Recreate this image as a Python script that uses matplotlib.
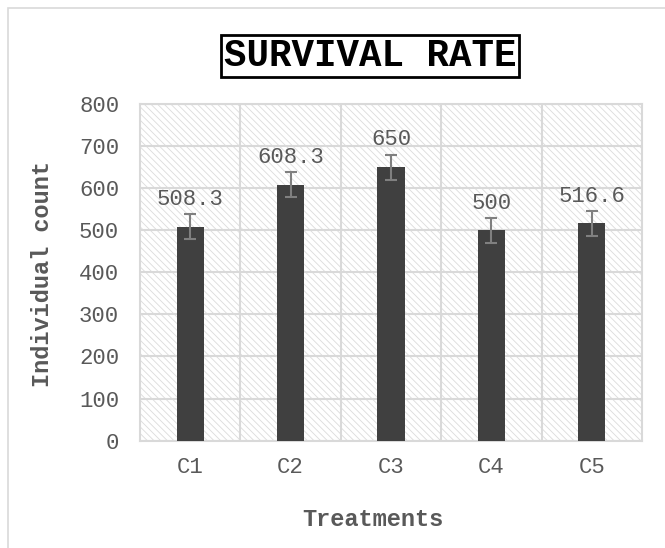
import matplotlib.pyplot as plt
from matplotlib.patches import Rectangle

plt.rcParams['font.family'] = ['Liberation Mono', 'DejaVu Sans Mono']
plt.rcParams['hatch.linewidth'] = 0.6

treatments = ['C1', 'C2', 'C3', 'C4', 'C5']
survival = [508.3, 608.3, 650, 500, 516.6]
errors = [30, 30, 30, 30, 30]
labels = ['508.3', '608.3', '650', '500', '516.6']

grey = '#595959'
grid = '#d9d9d9'

fig = plt.figure(figsize=(6.65, 5.48), dpi=100)
ax = fig.add_axes([0.2105, 0.196, 0.755, 0.614])

# outer chart border
fig.patches.append(Rectangle((8 / 665, -0.1), 1.2, (540 / 548) + 0.1,
                             transform=fig.transFigure, fill=False,
                             edgecolor=grid, linewidth=1.2))

# hatched plot area
ax.set_facecolor('none')
ax.add_patch(Rectangle((0, 0), 1, 1, transform=ax.transAxes, facecolor='white',
                       edgecolor='#dcdcdc', hatch='\\\\\\\\\\', linewidth=0, zorder=0))

x = range(len(treatments))
ax.bar(x, survival, width=0.27, color='#404040', zorder=3)
ax.errorbar(x, survival, yerr=errors, fmt='none', ecolor='#808080',
            elinewidth=1.5, capsize=4.5, capthick=1.5, zorder=4)
for i, (v, e, t) in enumerate(zip(survival, errors, labels)):
    ax.annotate(t, (i, v + e), xytext=(0, 3), textcoords='offset points',
                ha='center', va='bottom', fontsize=16, color=grey, zorder=5)

ax.set_xlim(-0.5, 4.5)
ax.set_ylim(0, 800)
ax.set_yticks(range(0, 801, 100))
ax.set_xticks(list(x))
ax.set_xticklabels(treatments)
ax.set_xticks([0.5, 1.5, 2.5, 3.5], minor=True)
ax.tick_params(which='both', length=0, labelsize=16, labelcolor=grey)
ax.tick_params(axis='y', pad=15)
ax.tick_params(axis='x', pad=12)
ax.grid(True, which='major', axis='y', color=grid, linewidth=1.5, zorder=1)
ax.grid(True, which='minor', axis='x', color=grid, linewidth=1.5, zorder=1)
ax.set_axisbelow(True)
for s in ax.spines.values():
    s.set_color(grid)
    s.set_linewidth(1.5)

fig.text(43 / 665, 1 - 274 / 548, 'Individual count', rotation=90, fontsize=17,
         fontweight='bold', color=grey, ha='center', va='center')
fig.text(373 / 665, 1 - 520 / 548, 'Treatments', fontsize=17, fontweight='bold',
         color=grey, ha='center', va='center')
fig.text(370 / 665, 1 - 56 / 548, 'SURVIVAL RATE', fontsize=27, fontweight='bold',
         color='black', ha='center', va='center',
         bbox=dict(boxstyle='square,pad=0.08', facecolor='white', edgecolor='black', linewidth=2))

fig.savefig('out.png', dpi=100)
